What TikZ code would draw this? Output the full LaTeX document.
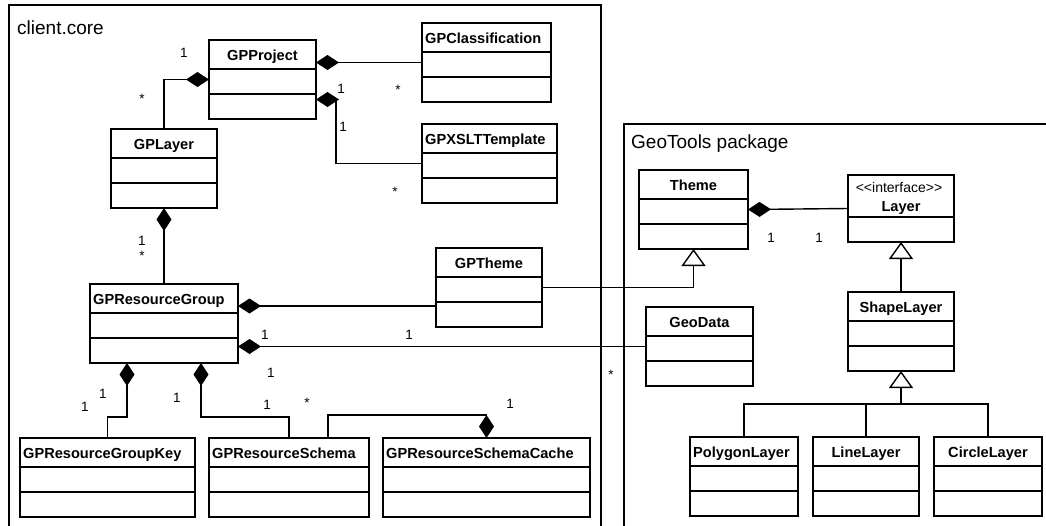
\documentclass[tikz,border=0pt]{standalone}
\usepackage{fontspec}
\setmainfont{Liberation Sans}[Ligatures=TeXOff]
\usetikzlibrary{arrows.meta,calc}

\tikzset{
  classbox/.style={draw, line width=1.4pt, anchor=north west, minimum height=79pt,
    inner sep=0pt, outer sep=0pt},
  classname/.style={font=\bfseries\fontsize{14.6}{16}\selectfont, inner xsep=3pt,
    inner ysep=0pt, text height=20pt, text depth=5pt},
  stereo/.style={font=\fontsize{14}{16}\selectfont, anchor=base, inner sep=0pt},
  mult/.style={font=\fontsize{13.5}{15}\selectfont, anchor=base, inner sep=0pt},
  pkg/.style={draw, line width=1.4pt},
  pkgname/.style={font=\fontsize{19}{22}\selectfont, anchor=base west, inner sep=0pt},
  comp/.style={{Diamond[length=23pt,width=15pt]}-, line width=1.4pt},
  gen/.style={-{Triangle[open,length=17pt,width=24pt]}, line width=1.4pt},
  link/.style={line width=1.4pt},
}

% box with name and two empty compartments
\newcommand{\umlclass}[6][north]{%
  \node[classbox, minimum width=#5pt] (#2) at (#3,#4) {};
  \draw[link] (#2.north west) ++(0,29) -- ++(#5,0) ++(-#5,25) -- ++(#5,0);
  \node[classname, anchor=#1] (#2-name) at (#2.#1) {#6};
}

\begin{document}
\begin{tikzpicture}[x=1pt,y=-1pt]
  \useasboundingbox (0,0) rectangle (1046,525);
  \clip (0,0) rectangle (1046,525);

  % packages
  \draw[pkg] (9,5) rectangle (601,540);
  \node[pkgname] (core) at (17,34) {client.core};
  \draw[pkg] (624,124) rectangle (1060,540);
  \node[pkgname] (geotools) at (631,148) {GeoTools package};

  % client.core
  \umlclass{gpproject}{209}{40}{107}{GPProject}
  \umlclass[north west]{gpclassification}{422}{23}{129}{GPClassification}
  \umlclass[north west]{gpxslt}{422}{124}{135}{GPXSLTTemplate}
  \umlclass{gplayer}{111}{129}{106}{GPLayer}
  \umlclass[north west]{gpresgroup}{90}{284}{148}{GPResourceGroup}
  \umlclass{gptheme}{436}{248}{106}{GPTheme}
  \umlclass[north west]{gpreskey}{20}{438}{175}{GPResourceGroupKey}
  \umlclass[north west]{gpresschema}{209}{438}{160}{GPResourceSchema}
  \umlclass[north west]{gpschemacache}{383}{438}{207}{GPResourceSchemaCache}

  % GeoTools
  \umlclass{theme}{639}{170}{109}{Theme}
  \node[classbox, minimum width=106pt, minimum height=67pt] (layer) at (848,175) {};
  \draw[link] (layer.north west) ++(0,42) -- ++(106,0);
  \node[stereo] (layer-stereo) at ($(layer.north)+(-2,17)$) {<<interface>>};
  \node[classname, anchor=base, text height=, text depth=] (layer-name)
    at ($(layer.north)+(0,36)$) {Layer};
  \umlclass{shapelayer}{848}{292}{106}{ShapeLayer}
  \umlclass{geodata}{646}{307}{107}{GeoData}
  \umlclass[north west]{polygonlayer}{690}{437}{108}{PolygonLayer}
  \umlclass{linelayer}{813}{437}{106}{LineLayer}
  \umlclass{circlelayer}{934}{437}{108}{CircleLayer}

  % compositions
  \draw[comp] (gpproject.west) -| (gplayer.north);
  \draw[comp] (gpproject.east |- gpclassification.west) -- (gpclassification.west);
  \draw[comp] ($(gpproject.east)+(0,20)$) -- ++(20,0) |- (gpxslt.west);
  \draw[comp] (gplayer.south) -- (gpresgroup.north);
  \draw[comp] ($(gpresgroup.north east)+(0,22)$) -- ($(gptheme.north west)+(0,58)$);
  \draw[comp] (gpresgroup.east |- geodata.west) -- (geodata.west);
  \draw[comp] ($(gpresgroup.south west)+(37,0)$) -- ++(0,54) -| (gpreskey.north);
  \draw[comp] ($(gpresgroup.south west)+(111,0)$) -- ++(0,54) -| (gpresschema.north);
  \draw[comp] (gpschemacache.north) -- ++(0,-23) -| ($(gpresschema.north west)+(119,0)$);
  \draw[comp] (theme.east) -- (layer.west);

  % generalisations
  \draw[gen] (gptheme.east) -| (theme.south);
  \draw[gen] (shapelayer.north) -- (layer.south);
  \coordinate (shape-fork) at ($(shapelayer.south)+(0,33)$);
  \draw[gen] (shape-fork) -- (shapelayer.south);
  \draw[link] (polygonlayer.north) |- (shape-fork) -| (circlelayer.north);
  \draw[link] (linelayer.north) -- (linelayer.north |- shape-fork);

  % multiplicities
  \foreach \x/\y/\m [count=\i] in {184/57/1, 142/103/*, 341/93/1, 398/94/*,
      343/131/1, 395/196/*, 142/245/1, 142/260/*, 265/339/1, 409/339/1,
      271/377/1, 611/379/*, 103/398/1, 85/411/1, 177/402/1, 267/409/1,
      307/407/*, 510/408/1, 771/242/1, 819/242/1}
    \node[mult] (mult\i) at (\x,\y) {\m};
\end{tikzpicture}
\end{document}
